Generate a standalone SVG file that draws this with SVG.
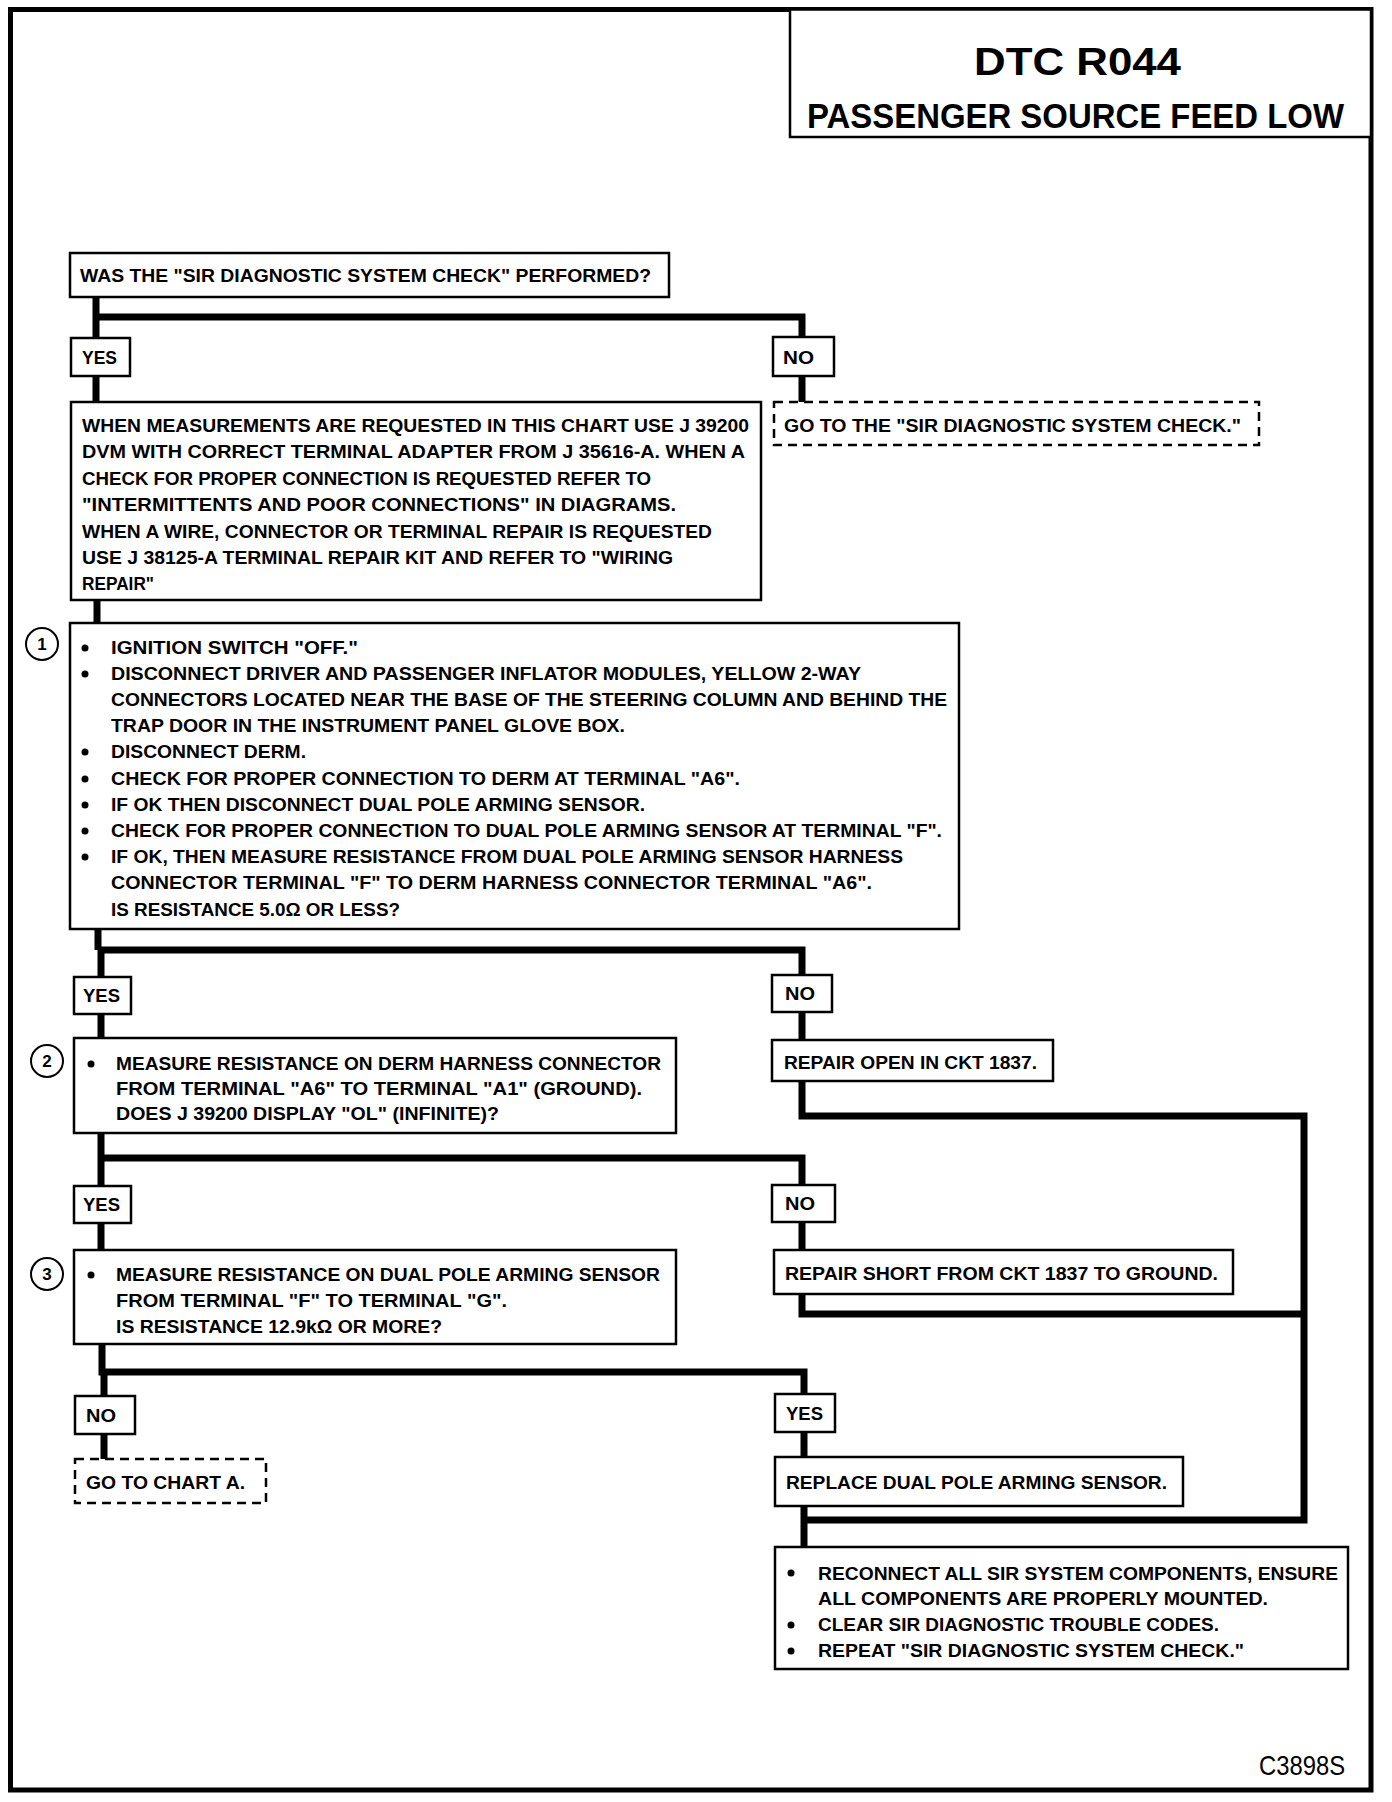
<svg xmlns="http://www.w3.org/2000/svg" width="1392" height="1802" viewBox="0 0 1392 1802">
<style>
.box{fill:#fff;stroke:#000;stroke-width:2.5}
.dash{fill:#fff;stroke:#000;stroke-width:2.5;stroke-dasharray:9 6}
.t{font-family:"Liberation Sans",Arial,sans-serif;font-weight:bold;font-size:18px;fill:#000}
.n{font-family:"Liberation Sans",Arial,sans-serif;font-weight:bold;font-size:17px;fill:#000}
.c{fill:none;stroke:#000;stroke-width:7}
.cn{fill:#fff;stroke:#000;stroke-width:2}
.b{fill:#000}
</style>
<rect x="0" y="0" width="1392" height="1802" fill="#fff"/>
<rect id="frame" x="10.5" y="9.5" width="1360.5" height="1780.5" fill="none" stroke="#000" stroke-width="5"/>

<g id="connectors">
<path class="c" d="M96 297V338M96 317H802V337M96 376V402M802 376V402"/>
<path class="c" d="M97 600V623"/>
<path class="c" d="M98 929V950M101 950H802V975M101 950V977M101 1014V1038M802 1012V1040"/>
<path class="c" d="M802 1081V1116H1304V1520H804M802 1294V1314H1304"/>
<path class="c" d="M101 1133V1158H802V1185M101 1158V1186M101 1223V1250M802 1222V1250"/>
<path class="c" d="M102 1344V1372H804V1394M104 1372V1396M104 1434V1459M804 1432V1457M804 1506V1547"/>
</g>

<g id="title">
<rect x="790" y="9.5" width="581" height="127.5" fill="#fff" stroke="#000" stroke-width="2.5"/>
<text x="974" y="75" style="font-family:'Liberation Sans',Arial,sans-serif;font-weight:bold;font-size:39px" textLength="207" lengthAdjust="spacingAndGlyphs">DTC R044</text>
<text x="807" y="128" style="font-family:'Liberation Sans',Arial,sans-serif;font-weight:bold;font-size:35px" textLength="537" lengthAdjust="spacingAndGlyphs">PASSENGER SOURCE FEED LOW</text>
</g>

<g id="q1">
<rect class="box" x="70" y="253" width="599" height="44"/>
<text class="t" x="80" y="282" textLength="571" lengthAdjust="spacingAndGlyphs">WAS THE "SIR DIAGNOSTIC SYSTEM CHECK" PERFORMED?</text>
</g>
<g id="yes1"><rect class="box" x="71" y="338" width="59" height="38"/><text class="t" x="82" y="364" textLength="35" lengthAdjust="spacingAndGlyphs">YES</text></g>
<g id="no1"><rect class="box" x="773" y="337" width="61" height="39"/><text class="t" x="783" y="364" textLength="31" lengthAdjust="spacingAndGlyphs">NO</text></g>

<g id="measure">
<rect class="box" x="71" y="402" width="690" height="198"/>
<text class="t" x="82" y="432" textLength="667" lengthAdjust="spacingAndGlyphs">WHEN MEASUREMENTS ARE REQUESTED IN THIS CHART USE J 39200</text>
<text class="t" x="82" y="458" textLength="663" lengthAdjust="spacingAndGlyphs">DVM WITH CORRECT TERMINAL ADAPTER FROM J 35616-A.  WHEN A</text>
<text class="t" x="82" y="485" textLength="569" lengthAdjust="spacingAndGlyphs">CHECK FOR PROPER CONNECTION IS REQUESTED REFER TO</text>
<text class="t" x="82" y="511" textLength="594" lengthAdjust="spacingAndGlyphs">"INTERMITTENTS AND POOR CONNECTIONS" IN  DIAGRAMS.</text>
<text class="t" x="82" y="538" textLength="630" lengthAdjust="spacingAndGlyphs">WHEN A WIRE, CONNECTOR OR TERMINAL REPAIR IS REQUESTED</text>
<text class="t" x="82" y="564" textLength="591" lengthAdjust="spacingAndGlyphs">USE J 38125-A TERMINAL REPAIR KIT AND REFER TO "WIRING</text>
<text class="t" x="82" y="590" textLength="72" lengthAdjust="spacingAndGlyphs">REPAIR"</text>
</g>

<g id="goto-check">
<rect class="dash" x="774" y="402" width="485" height="43"/>
<text class="t" x="784" y="432" textLength="457" lengthAdjust="spacingAndGlyphs">GO TO THE "SIR DIAGNOSTIC SYSTEM CHECK."</text>
</g>

<g id="step1">
<rect class="box" x="70" y="623" width="889" height="306"/>
<circle class="cn" cx="42" cy="644" r="16"/>
<text class="n" x="42" y="650" text-anchor="middle">1</text>
<circle class="b" cx="85" cy="648" r="3.5"/>
<circle class="b" cx="85" cy="674" r="3.5"/>
<circle class="b" cx="85" cy="752" r="3.5"/>
<circle class="b" cx="85" cy="779" r="3.5"/>
<circle class="b" cx="85" cy="805" r="3.5"/>
<circle class="b" cx="85" cy="831" r="3.5"/>
<circle class="b" cx="85" cy="857" r="3.5"/>
<text class="t" x="111" y="654" textLength="247" lengthAdjust="spacingAndGlyphs">IGNITION SWITCH "OFF."</text>
<text class="t" x="111" y="680" textLength="750" lengthAdjust="spacingAndGlyphs">DISCONNECT DRIVER AND PASSENGER INFLATOR MODULES, YELLOW 2-WAY</text>
<text class="t" x="111" y="706" textLength="836" lengthAdjust="spacingAndGlyphs">CONNECTORS LOCATED NEAR THE BASE OF THE STEERING COLUMN AND BEHIND THE</text>
<text class="t" x="111" y="732" textLength="514" lengthAdjust="spacingAndGlyphs">TRAP DOOR IN THE INSTRUMENT PANEL GLOVE BOX.</text>
<text class="t" x="111" y="758" textLength="195" lengthAdjust="spacingAndGlyphs">DISCONNECT DERM.</text>
<text class="t" x="111" y="785" textLength="629" lengthAdjust="spacingAndGlyphs">CHECK FOR PROPER CONNECTION TO DERM AT TERMINAL "A6".</text>
<text class="t" x="111" y="811" textLength="534" lengthAdjust="spacingAndGlyphs">IF OK THEN DISCONNECT DUAL POLE ARMING SENSOR.</text>
<text class="t" x="111" y="837" textLength="831" lengthAdjust="spacingAndGlyphs">CHECK FOR PROPER CONNECTION TO DUAL POLE ARMING SENSOR AT TERMINAL "F".</text>
<text class="t" x="111" y="863" textLength="792" lengthAdjust="spacingAndGlyphs">IF OK, THEN MEASURE RESISTANCE FROM DUAL POLE ARMING SENSOR HARNESS</text>
<text class="t" x="111" y="889" textLength="761" lengthAdjust="spacingAndGlyphs">CONNECTOR TERMINAL "F" TO DERM HARNESS CONNECTOR TERMINAL "A6".</text>
<text class="t" x="111" y="916" textLength="289" lengthAdjust="spacingAndGlyphs">IS RESISTANCE 5.0Ω OR LESS?</text>
</g>

<g id="yes2"><rect class="box" x="74" y="977" width="57" height="37"/><text class="t" x="83" y="1002" textLength="37" lengthAdjust="spacingAndGlyphs">YES</text></g>
<g id="no2"><rect class="box" x="772" y="975" width="60" height="37"/><text class="t" x="785" y="1000" textLength="30" lengthAdjust="spacingAndGlyphs">NO</text></g>

<g id="step2">
<rect class="box" x="74" y="1038" width="602" height="95"/>
<circle class="cn" cx="47" cy="1061" r="16"/>
<text class="n" x="47" y="1067" text-anchor="middle">2</text>
<circle class="b" cx="91" cy="1064" r="3.5"/>
<text class="t" x="116" y="1070" textLength="545" lengthAdjust="spacingAndGlyphs">MEASURE RESISTANCE ON DERM HARNESS CONNECTOR</text>
<text class="t" x="116" y="1095" textLength="526" lengthAdjust="spacingAndGlyphs">FROM TERMINAL "A6" TO TERMINAL "A1" (GROUND).</text>
<text class="t" x="116" y="1120" textLength="383" lengthAdjust="spacingAndGlyphs">DOES J 39200 DISPLAY "OL" (INFINITE)?</text>
</g>

<g id="repair-open">
<rect class="box" x="772" y="1040" width="281" height="41"/>
<text class="t" x="784" y="1069" textLength="253" lengthAdjust="spacingAndGlyphs">REPAIR OPEN IN CKT 1837.</text>
</g>

<g id="yes3"><rect class="box" x="74" y="1186" width="57" height="37"/><text class="t" x="83" y="1211" textLength="37" lengthAdjust="spacingAndGlyphs">YES</text></g>
<g id="no3"><rect class="box" x="772" y="1185" width="63" height="37"/><text class="t" x="785" y="1210" textLength="30" lengthAdjust="spacingAndGlyphs">NO</text></g>

<g id="step3">
<rect class="box" x="74" y="1250" width="602" height="94"/>
<circle class="cn" cx="47" cy="1274" r="16"/>
<text class="n" x="47" y="1280" text-anchor="middle">3</text>
<circle class="b" cx="91" cy="1275" r="3.5"/>
<text class="t" x="116" y="1281" textLength="544" lengthAdjust="spacingAndGlyphs">MEASURE RESISTANCE ON DUAL POLE ARMING SENSOR</text>
<text class="t" x="116" y="1307" textLength="391" lengthAdjust="spacingAndGlyphs">FROM TERMINAL "F" TO TERMINAL "G".</text>
<text class="t" x="116" y="1333" textLength="326" lengthAdjust="spacingAndGlyphs">IS RESISTANCE 12.9kΩ OR MORE?</text>
</g>

<g id="repair-short">
<rect class="box" x="774" y="1250" width="459" height="44"/>
<text class="t" x="785" y="1280" textLength="433" lengthAdjust="spacingAndGlyphs">REPAIR SHORT FROM CKT 1837 TO GROUND.</text>
</g>

<g id="no4"><rect class="box" x="75" y="1396" width="60" height="38"/><text class="t" x="86" y="1422" textLength="30" lengthAdjust="spacingAndGlyphs">NO</text></g>
<g id="yes4"><rect class="box" x="775" y="1394" width="60" height="38"/><text class="t" x="786" y="1420" textLength="37" lengthAdjust="spacingAndGlyphs">YES</text></g>

<g id="goto-chart-a">
<rect class="dash" x="75" y="1459" width="191" height="44"/>
<text class="t" x="86" y="1489" textLength="159" lengthAdjust="spacingAndGlyphs">GO TO CHART A.</text>
</g>

<g id="replace">
<rect class="box" x="775" y="1457" width="408" height="49"/>
<text class="t" x="786" y="1489" textLength="381" lengthAdjust="spacingAndGlyphs">REPLACE DUAL POLE ARMING SENSOR.</text>
</g>

<g id="final">
<rect class="box" x="775" y="1547" width="573" height="122"/>
<circle class="b" cx="791" cy="1573" r="3.5"/>
<circle class="b" cx="791" cy="1625" r="3.5"/>
<circle class="b" cx="791" cy="1651" r="3.5"/>
<text class="t" x="818" y="1580" textLength="520" lengthAdjust="spacingAndGlyphs">RECONNECT ALL SIR SYSTEM COMPONENTS, ENSURE</text>
<text class="t" x="818" y="1605" textLength="450" lengthAdjust="spacingAndGlyphs">ALL COMPONENTS ARE PROPERLY MOUNTED.</text>
<text class="t" x="818" y="1631" textLength="401" lengthAdjust="spacingAndGlyphs">CLEAR SIR DIAGNOSTIC TROUBLE CODES.</text>
<text class="t" x="818" y="1657" textLength="426" lengthAdjust="spacingAndGlyphs">REPEAT "SIR DIAGNOSTIC SYSTEM CHECK."</text>
</g>

<text x="1259" y="1775" style="font-family:'Liberation Sans',Arial,sans-serif;font-size:28px" textLength="86" lengthAdjust="spacingAndGlyphs">C3898S</text>
</svg>
